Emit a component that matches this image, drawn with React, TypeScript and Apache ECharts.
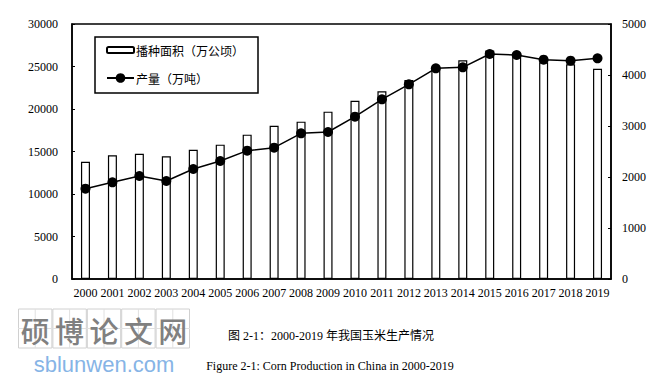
import React, { useEffect, useRef } from "react";
import * as echarts from "echarts";

const years = ["2000","2001","2002","2003","2004","2005","2006","2007","2008","2009","2010","2011","2012","2013","2014","2015","2016","2017","2018","2019"];
// 播种面积（万公顷） – right axis
const areaValues = [2300, 2425, 2457, 2405, 2535, 2634, 2830, 3006, 3085, 3281, 3496, 3680, 3902, 4130, 4288, 4480, 4418, 4249, 4210, 4124];
// 产量（万吨） – left axis
const outputValues = [10624, 11373, 12118, 11529, 12941, 13882, 15100, 15450, 17140, 17294, 19094, 21140, 22900, 24788, 24906, 26470, 26353, 25800, 25686, 25960];

const areaName = "播种面积（万公顷）";
const outputName = "产量（万吨）";
const captionCn = "图 2-1：2000-2019 年我国玉米生产情况";
const captionEn = "Figure 2-1: Corn Production in China in 2000-2019";
const logoChars = ["硕", "博", "论", "文", "网"];
const logoUrl = "sblunwen.com";

const serif = "'Liberation Serif', 'Times New Roman', serif";
const cjk = "'Noto Sans CJK SC', sans-serif";

export default function App() {
  const ref = useRef<HTMLDivElement>(null);
  useEffect(() => {
    if (!ref.current) return;
    const chart = echarts.init(ref.current, null, { renderer: "svg" });

    const graphics: any[] = [];
    // legend box
    graphics.push({
      type: "rect",
      shape: { x: 95, y: 37, width: 163, height: 56 },
      style: { fill: "#fff", stroke: "#000", lineWidth: 1.5 },
      z: 1,
    });
    // watermark logo boxes
    const bx = 18, by = 309, bw = 34.4, bh = 39;
    logoChars.forEach((ch, i) => {
      const x = bx + i * bw;
      graphics.push({
        type: "rect",
        shape: { x: x + 0.5, y: by, width: bw - 1, height: bh },
        style: { fill: "none", stroke: "#d0d0d0", lineWidth: 1 },
      });
      graphics.push({
        type: "line",
        shape: { x1: x + bw / 2, y1: by, x2: x + bw / 2, y2: by + bh },
        style: { stroke: "#e0e0e0", lineWidth: 1 },
      });
      graphics.push({
        type: "line",
        shape: { x1: x, y1: by + bh / 2, x2: x + bw, y2: by + bh / 2 },
        style: { stroke: "#e0e0e0", lineWidth: 1 },
      });
      graphics.push({
        type: "text",
        x: x + bw / 2,
        y: by + bh / 2 + 1,
        style: {
          text: ch,
          fill: "#808080",
          font: `500 29px ${cjk}`,
          align: "center",
          verticalAlign: "middle",
        },
      });
    });
    graphics.push({
      type: "text",
      x: 104,
      y: 364,
      style: {
        text: logoUrl,
        fill: "#86b4e6",
        font: `22px 'Liberation Sans', Arial, sans-serif`,
        align: "center",
        verticalAlign: "middle",
      },
    });
    graphics.push({
      type: "text",
      x: 331,
      y: 336,
      style: {
        text: captionCn,
        fill: "#000",
        font: `12px ${serif}, ${cjk}`,
        align: "center",
        verticalAlign: "middle",
      },
    });
    graphics.push({
      type: "text",
      x: 330,
      y: 366,
      style: {
        text: captionEn,
        fill: "#000",
        font: `12px ${serif}`,
        align: "center",
        verticalAlign: "middle",
      },
    });

    const axisLabelStyle = { color: "#000", fontFamily: serif, fontSize: 12 };
    const plain = (v: number) => String(v);

    chart.setOption({
      animation: false,
      backgroundColor: "#fff",
      grid: {
        left: 72, right: 60, top: 24, bottom: 102,
        show: true, borderColor: "#000", borderWidth: 1.5,
      },
      legend: [
        {
          data: [areaName],
          orient: "vertical",
          left: 106, top: 44,
          padding: 0,
          itemWidth: 27, itemHeight: 6, itemGap: 4,
          textStyle: { fontFamily: cjk, fontSize: 12, color: "#000", padding: [0, 0, 0, -3] },
          z: 5,
        },
        {
          data: [outputName],
          orient: "vertical",
          left: 106, top: 72,
          padding: 0,
          itemWidth: 27, itemHeight: 12,
          textStyle: { fontFamily: cjk, fontSize: 12, color: "#000", padding: [0, 0, 0, -3] },
          z: 5,
        },
      ],
      xAxis: {
        type: "category",
        data: years,
        boundaryGap: true,
        axisLine: { lineStyle: { color: "#000", width: 1.5 } },
        axisTick: { inside: true, length: 3, lineStyle: { color: "#000" } },
        axisLabel: { ...axisLabelStyle, interval: 0, margin: 8 },
      },
      yAxis: [
        {
          type: "value",
          min: 0, max: 30000, interval: 5000,
          position: "left",
          axisLine: { show: true, lineStyle: { color: "#000", width: 1.5 } },
          axisTick: { show: true, inside: true, length: 3, lineStyle: { color: "#000" } },
          axisLabel: { ...axisLabelStyle, margin: 14, formatter: plain },
          splitLine: { show: false },
        },
        {
          type: "value",
          min: 0, max: 5000, interval: 1000,
          position: "right",
          axisLine: { show: true, lineStyle: { color: "#000", width: 1.5 } },
          axisTick: { show: true, inside: true, length: 3, lineStyle: { color: "#000" } },
          axisLabel: { ...axisLabelStyle, margin: 11, formatter: plain },
          splitLine: { show: false },
        },
      ],
      series: [
        {
          name: areaName,
          type: "bar",
          yAxisIndex: 1,
          data: areaValues,
          barWidth: 9,
          itemStyle: { color: "#fff", borderColor: "#000", borderWidth: 1.2 },
          z: 2,
        },
        {
          name: outputName,
          type: "line",
          yAxisIndex: 0,
          data: outputValues,
          symbol: "circle",
          symbolSize: 10,
          lineStyle: { color: "#000", width: 1.5 },
          itemStyle: { color: "#000" },
          z: 3,
        },
      ],
      graphic: graphics,
    });
    return () => chart.dispose();
  }, []);

  return (
    <div
      ref={ref}
      style={{ position: "fixed", left: 0, top: 0, width: 671, height: 381 }}
    />
  );
}
